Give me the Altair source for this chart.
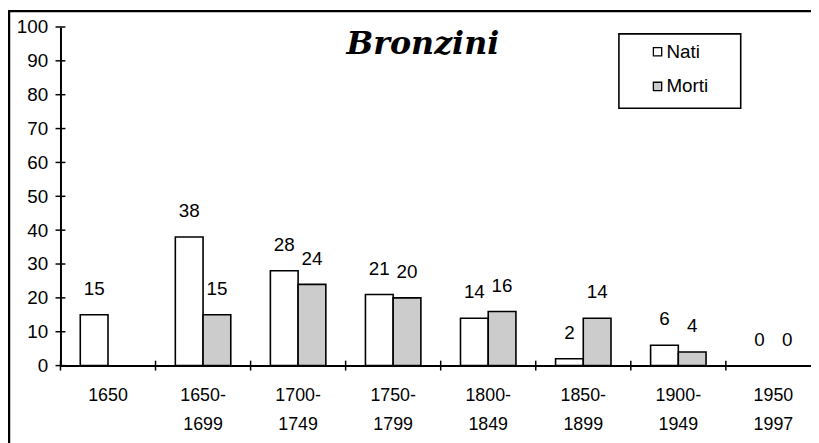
import altair as alt
import pandas as pd

# ---- data ----
periods = ["1650", "1650-\n1699", "1700-\n1749", "1750-\n1799", "1800-\n1849",
           "1850-\n1899", "1900-\n1949", "1950\n1997"]
nati = [15, 38, 28, 21, 14, 2, 6, 0]
morti = [None, 15, 24, 20, 16, 14, 4, 0]
series = ["Nati", "Morti"]
y_ticks = [0, 10, 20, 30, 40, 50, 60, 70, 80, 90, 100]
chart_title = "Bronzini"

rows = []
for p, n, m in zip(periods, nati, morti):
    if n is not None:
        rows.append({"period": p, "serie": "Nati", "value": n})
    if m is not None:
        rows.append({"period": p, "serie": "Morti", "value": m})
df = pd.DataFrame(rows)

W_VIEW = 758       # visible part of the plot
RANGE = 768        # full category range (last band is cut by the frame)
H = 342
FONT = "Liberation Sans"
FS = 19
MORTI_FILL = "#cccccc"

x_scale = alt.Scale(domain=periods, range=[0, RANGE], paddingInner=0.4167, paddingOuter=0.2083)
x_axis = alt.Axis(
    title=None, ticks=False, domain=True, domainColor="black", domainWidth=2,
    labelAngle=0, labelFont=FONT, labelFontSize=18, labelColor="black",
    labelPadding=21, labelLineHeight=30,
    labelExpr="split(datum.label, '\\n')",
)
xo_enc = alt.XOffset("serie:N", sort=series,
                     scale=alt.Scale(domain=series, paddingInner=0, paddingOuter=0))
y_axis = alt.Axis(
    title=None, values=y_ticks, ticks=False, grid=False, domain=True,
    domainColor="black", domainWidth=2, labelFont=FONT, labelFontSize=FS,
    labelColor="black", labelPadding=13, labelOverlap=False,
)
y_scale = alt.Scale(domain=[0, 100], nice=False)
y_enc = alt.Y("value:Q", scale=y_scale, axis=y_axis)

base = alt.Chart(df)
bars = base.mark_bar(stroke="black", strokeWidth=1.6).encode(
    x=alt.X("period:N", sort=periods, scale=x_scale, axis=x_axis),
    xOffset=xo_enc, y=y_enc,
    fill=alt.Fill("serie:N", scale=alt.Scale(domain=series, range=["white", MORTI_FILL]),
                  legend=None),
).transform_filter("datum.value > 0")
labels = base.mark_text(dy=-26, font=FONT, fontSize=FS, color="black", baseline="middle").encode(
    x=alt.X("period:N", sort=periods, scale=x_scale, axis=None),
    xOffset=xo_enc, y=y_enc, text="value:Q"
)

# crossing tick marks
yt = alt.Chart(pd.DataFrame({"value": y_ticks})).mark_rule(color="black", strokeWidth=1.5).encode(
    y=y_enc, x=alt.value(-5), x2=alt.value(5)
)
xt = alt.Chart(pd.DataFrame({"b": list(range(0, len(periods) + 1))})).mark_rule(
    color="black", strokeWidth=1.5).encode(
    x=alt.X("b:Q", scale=alt.Scale(domain=[0, len(periods)], range=[0, RANGE], nice=False, zero=False),
            axis=None),
    y=alt.value(H - 5), y2=alt.value(H + 5),
)

one = pd.DataFrame({"k": [0]})
frame_left = alt.Chart(one).mark_rule(color="black", strokeWidth=2.5).encode(
    x=alt.value(-52), y=alt.value(-17), y2=alt.value(H + 80))
frame_top = alt.Chart(one).mark_rule(color="black", strokeWidth=2.5).encode(
    x=alt.value(-53), x2=alt.value(W_VIEW + 10), y=alt.value(-16))

title = alt.Chart(one).mark_text(
    text=chart_title, font="DejaVu Serif", fontStyle="italic", fontWeight="bold",
    fontSize=32, align="center", baseline="alphabetic", color="black"
).encode(x=alt.value(366), y=alt.value(27))

legend_box = alt.Chart(one).mark_rect(fill="white", stroke="black", strokeWidth=1.6).encode(
    x=alt.value(564), x2=alt.value(687), y=alt.value(7), y2=alt.value(82))
legend_layers = [legend_box]
fills = ["white", MORTI_FILL]
for i, s in enumerate(series):
    yy = 25 + 35 * i
    legend_layers.append(
        alt.Chart(one).mark_square(size=70, fill=fills[i], stroke="black", strokeWidth=1.3, opacity=1)
        .encode(x=alt.value(603), y=alt.value(yy)))
    legend_layers.append(
        alt.Chart(one).mark_text(text=s, font=FONT, fontSize=FS, align="left", baseline="middle",
                                 color="black")
        .encode(x=alt.value(612), y=alt.value(yy)))

chart = alt.layer(
    bars, labels, yt, xt, frame_left, frame_top, title, *legend_layers
).resolve_scale(x="independent").properties(
    width=W_VIEW, height=H,
    autosize=alt.AutoSizeParams(type="none"),
    padding={"left": 53, "top": 17, "right": 0, "bottom": 76},
    background="white",
).configure_view(stroke=None)

chart.save("out.html", embed_options={"renderer": "svg", "actions": False})
